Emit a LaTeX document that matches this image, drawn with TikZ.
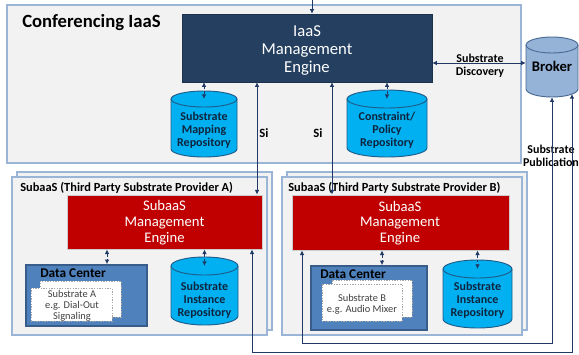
\documentclass[tikz,border=0pt]{standalone}
\usepackage{fontspec}
\setmainfont{Carlito}
\usetikzlibrary{arrows.meta,fit}

\definecolor{panelfill}{HTML}{F2F2F2}
\definecolor{panelline}{HTML}{9BB5D6}
\definecolor{navy}{HTML}{243F60}
\definecolor{wire}{HTML}{1F3864}
\definecolor{repofill}{HTML}{00B0F0}
\definecolor{repoline}{HTML}{1F5C8A}
\definecolor{repotext}{HTML}{0F243E}
\definecolor{brokerfill}{HTML}{95B3D7}
\definecolor{brokerline}{HTML}{4A6A94}
\definecolor{engred}{HTML}{C00000}
\definecolor{dcfill}{HTML}{4F81BD}
\definecolor{dcline}{HTML}{385D8A}
\definecolor{cardtext}{HTML}{404040}

% drum: name, centre x, top y, bottom y, half width, cap radius, style
\newcommand{\drum}[7]{%
  \path[#7] (#2-#5,#3+#6) -- (#2-#5,#4-#6)
     arc[start angle=180, end angle=0, x radius=#5, y radius=#6]
     -- (#2+#5,#3+#6)
     arc[start angle=0, end angle=-180, x radius=#5, y radius=#6] -- cycle;
  \path[#7, fill=none] (#2-#5,#3+#6)
     arc[start angle=180, end angle=0, x radius=#5, y radius=#6];
  \node[inner sep=0, fit={(#2-#5,#3) (#2+#5,#4)}] (#1) {};
  \coordinate (#1-cap) at (#2,#3+#6);
}

\begin{document}
\begin{tikzpicture}[x=0.75pt, y=-0.75pt,
  panel/.style={draw=panelline, fill=panelfill, line width=0.8pt, inner sep=0},
  iaaseng/.style={draw=navy!80!black, fill=navy, inner sep=0},
  iaastxt/.style={inner sep=0, align=center, text=white, font=\fontsize{12.5}{13.5}\selectfont},
  subeng/.style={draw=gray!40, line width=0.6pt, fill=engred, inner sep=0},
  subtxt/.style={inner sep=0, align=center, text=white, font=\fontsize{11}{11.8}\selectfont},
  repo/.style={draw=repoline, fill=repofill, line width=0.7pt},
  brokerdrum/.style={draw=brokerline, fill=brokerfill, line width=0.7pt},
  repotxt/.style={inner sep=0, align=center, text=repotext, font=\bfseries\fontsize{9}{9.75}\selectfont},
  lbl/.style={inner sep=0, align=center, font=\bfseries\fontsize{9}{9.5}\selectfont},
  ptitle/.style={inner sep=0, anchor=west, font=\bfseries\fontsize{9.3}{11}\selectfont},
  dctitle/.style={inner sep=0, anchor=west, font=\bfseries\fontsize{10}{12}\selectfont},
  dc/.style={draw=dcline, fill=dcfill, line width=1.2pt, inner sep=0},
  card/.style={draw=gray!70, fill=white, dash pattern=on 1pt off 1pt, line width=0.4pt, inner sep=0},
  cardtxt/.style={inner sep=0, align=center, text=cardtext, font=\fontsize{7.8}{8.3}\selectfont},
  link/.style={draw=wire, line width=0.75pt, {Latex[length=3.5pt,width=3.5pt]}-{Latex[length=3.5pt,width=3.5pt]}},
  dlink/.style={link, dash pattern=on 2.2pt off 1.5pt}]
\useasboundingbox (0,0) rectangle (579,354);

% ---------- Conferencing IaaS ----------
\node[panel, fit={(7,5) (521,163)}] (iaas) {};
\node[inner sep=0, anchor=west, font=\bfseries\fontsize{14}{16}\selectfont] (iaastitle) at (22,23) {Conferencing IaaS};
\node[iaaseng, fit={(182,14) (432,82)}] (ieng) {};
\node[iaastxt] (iengtxt) at (307,51) {IaaS\\Management\\Engine};

\drum{smr}{204}{91}{157}{33}{8}{repo}
\node[repotxt] (smrtxt) at (204,130) {Substrate\\Mapping\\Repository};
\drum{cpr}{387}{90}{157}{40}{9}{repo}
\node[repotxt] (cprtxt) at (387,130) {Constraint/\\Policy\\Repository};

% ---------- Broker ----------
\drum{broker}{552}{37}{97}{26}{8}{brokerdrum}
\node[lbl, font=\bfseries\fontsize{11}{12}\selectfont] (brokertxt) at (552,66) {Broker};

% ---------- SubaaS A ----------
\node[panel, fit={(17,172) (272,330)}] (paback) {};
\node[panel, fit={(12,177) (267,335)}] (pa) {};
\node[ptitle] (patitle) at (20,188) {SubaaS (Third Party Substrate Provider A)};
\node[subeng, fit={(67,195) (262,249)}] (ea) {};
\node[subtxt] (eatxt) at (164.5,222.5) {SubaaS\\Management\\Engine};
\node[dc, fit={(26,265) (147,326)}] (dca) {};
\node[dctitle] (dcatitle) at (40,273) {Data Center};
\node[card, fit={(40,281) (121,317)}] (cardaback) {};
\node[card, fit={(31,288) (112,321)}] (carda) {};
\node[cardtxt] (cardatxt) at (72,305.5) {Substrate A\\e.g. Dial-Out\\Signaling};
\drum{sia}{204.5}{257}{325}{33.5}{9}{repo}
\node[repotxt] (siatxt) at (204.5,300) {Substrate\\Instance\\Repository};

% ---------- SubaaS B ----------
\node[panel, fit={(287,172) (527,330)}] (pbback) {};
\node[panel, fit={(282,177) (522,335)}] (pb) {};
\node[ptitle] (pbtitle) at (288,188) {SubaaS (Third Party Substrate Provider B)};
\node[subeng, fit={(292,195) (509,250)}] (eb) {};
\node[subtxt] (ebtxt) at (400,223) {SubaaS\\Management\\Engine};
\node[dc, fit={(311,266) (427,330)}] (dcb) {};
\node[dctitle] (dcbtitle) at (320,274) {Data Center};
\node[card, fit={(332,280) (412,317)}] (cardbback) {};
\node[card, fit={(322,284) (402,321)}] (cardb) {};
\node[cardtxt] (cardbtxt) at (362,304.5) {Substrate B\\e.g. Audio Mixer};
\drum{sib}{477.5}{260}{328}{34.5}{9}{repo}
\node[repotxt] (sibtxt) at (477.5,300) {Substrate\\Instance\\Repository};

% ---------- connectors ----------
\coordinate (feed) at (312,0);
\draw[draw=wire, line width=0.75pt, -{Latex[length=3.5pt,width=3.5pt]}] (feed) -- (feed |- ieng.north);

\draw[dlink] (ieng.south -| smr-cap) -- (smr-cap);
\draw[dlink] (ieng.south -| cpr-cap) -- (cpr-cap);

\draw[link] (ieng.south -| 257,0) -- (ea.north -| 257,0);
\node[lbl, font=\bfseries\fontsize{9.5}{11}\selectfont] (sia-lbl) at (264,133) {Si};
\draw[link] (ieng.south -| 332,0) -- (eb.north -| 332,0);
\node[lbl, font=\bfseries\fontsize{9.5}{11}\selectfont] (sib-lbl) at (318,133) {Si};

\draw[link] (ieng.east |- 0,63) -- (broker.west |- 0,63);
\node[lbl] (disc) at (480,65.5) {Substrate\\Discovery};

\node[lbl] (publ) at (551,156) {Substrate\\Publication};
\coordinate (brim) at (572,94);
\draw[link] (eb.south -| 302,0) -- (302,343) -- (552,343) -- (broker.south);
\draw[link] (ea.south -| 252,0) -- (252,352.5) -- (572,352.5) -- (brim);

\draw[dlink] (ea.south -| 107,0) -- (dca.north -| 107,0);
\draw[dlink] (ea.south -| sia-cap) -- (sia-cap);
\draw[dlink] (eb.south -| 382,0) -- (dcb.north -| 382,0);
\draw[dlink] (eb.south -| sib-cap) -- (sib-cap);
\end{tikzpicture}
\end{document}
